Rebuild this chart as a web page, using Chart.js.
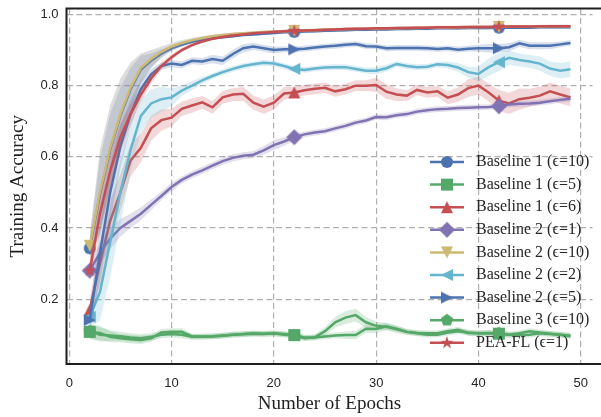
<!DOCTYPE html>
<html>
<head>
<meta charset="utf-8">
<script src="https://cdn.jsdelivr.net/npm/chart.js@4/dist/chart.umd.min.js"></script>
<style>
  html, body { margin: 0; padding: 0; background: #fff; }
  #wrap { width: 601px; height: 417px; }
</style>
</head>
<body>
<div id="wrap"><canvas id="chart" width="601" height="417"></canvas></div>
<script>
// epochs on the x axis
const epochs = [2,3,4,5,6,7,8,9,10,11,12,13,
                14,15,16,17,18,19,20,21,22,23,24,25,
                26,27,28,29,30,31,32,33,34,35,36,37,
                38,39,40,41,42,43,44,45,46,47,48,49];

// training accuracy per series
const b1e10 = [0.343,0.495,0.62,0.715,0.79,0.845,0.87,0.89,0.905,0.915,0.923,0.929,
               0.933,0.936,0.939,0.942,0.944,0.946,0.948,0.95,0.951,0.952,0.953,0.954,
               0.955,0.956,0.957,0.957,0.958,0.958,0.959,0.959,0.96,0.96,0.961,0.961,
               0.961,0.962,0.962,0.962,0.963,0.963,0.963,0.963,0.964,0.964,0.964,0.964];
const b1e5 = [0.108,0.105,0.094,0.09,0.087,0.085,0.09,0.106,0.108,0.108,0.095,0.095,
              0.096,0.098,0.1,0.101,0.103,0.102,0.104,0.102,0.099,0.092,0.092,0.095,
              0.098,0.099,0.099,0.117,0.116,0.124,0.117,0.108,0.104,0.1,0.1,0.106,
              0.11,0.106,0.104,0.104,0.103,0.1,0.099,0.1,0.104,0.102,0.1,0.098];
const b1e6 = [0.17,0.3,0.42,0.5,0.59,0.625,0.68,0.703,0.71,0.735,0.744,0.753,
              0.739,0.767,0.775,0.777,0.752,0.741,0.752,0.778,0.781,0.787,0.791,0.794,
              0.784,0.79,0.8,0.8,0.802,0.783,0.775,0.772,0.788,0.781,0.784,0.766,
              0.775,0.793,0.8,0.781,0.758,0.75,0.762,0.766,0.772,0.784,0.775,0.767];
const b2e1 = [0.28,0.33,0.37,0.4,0.42,0.44,0.465,0.49,0.515,0.535,0.55,0.562,
              0.575,0.588,0.597,0.603,0.606,0.618,0.633,0.643,0.655,0.663,0.668,0.672,
              0.68,0.687,0.696,0.702,0.712,0.711,0.717,0.72,0.727,0.731,0.734,0.735,
              0.737,0.738,0.739,0.74,0.742,0.747,0.749,0.75,0.752,0.756,0.76,0.763];
const b2e10 = [0.35,0.5,0.625,0.72,0.795,0.85,0.875,0.895,0.91,0.92,0.928,0.934,
               0.939,0.942,0.945,0.947,0.949,0.951,0.952,0.953,0.954,0.955,0.956,0.957,
               0.958,0.959,0.959,0.96,0.96,0.961,0.961,0.962,0.962,0.963,0.963,0.963,
               0.964,0.964,0.965,0.965,0.965,0.966,0.966,0.966,0.966,0.967,0.967,0.967];
const b2e2 = [0.15,0.22,0.36,0.5,0.62,0.715,0.75,0.762,0.767,0.786,0.8,0.815,
              0.827,0.838,0.847,0.855,0.86,0.864,0.862,0.855,0.847,0.844,0.848,0.851,
              0.852,0.852,0.847,0.842,0.842,0.849,0.861,0.855,0.852,0.853,0.86,0.858,
              0.851,0.838,0.833,0.852,0.866,0.878,0.872,0.868,0.862,0.848,0.842,0.846];
const b2e5 = [0.141,0.33,0.5,0.63,0.72,0.79,0.832,0.855,0.862,0.858,0.87,0.868,
              0.875,0.87,0.889,0.905,0.91,0.905,0.9,0.902,0.902,0.904,0.907,0.91,
              0.912,0.915,0.917,0.911,0.91,0.905,0.906,0.906,0.906,0.905,0.903,0.905,
              0.901,0.904,0.905,0.905,0.905,0.908,0.919,0.912,0.912,0.912,0.916,0.92];
const b3e10 = [0.11,0.1,0.098,0.096,0.092,0.09,0.094,0.1,0.102,0.1,0.094,0.094,
               0.095,0.097,0.1,0.102,0.104,0.103,0.104,0.1,0.098,0.09,0.093,0.11,
               0.135,0.148,0.155,0.135,0.125,0.122,0.115,0.108,0.105,0.104,0.104,0.11,
               0.114,0.105,0.104,0.105,0.104,0.1,0.104,0.11,0.106,0.103,0.1,0.096];
const peaFl = [0.28,0.44,0.56,0.655,0.72,0.775,0.82,0.855,0.88,0.9,0.914,0.924,
               0.932,0.937,0.941,0.944,0.947,0.949,0.951,0.953,0.954,0.955,0.956,0.957,
               0.958,0.959,0.96,0.96,0.961,0.961,0.962,0.962,0.963,0.963,0.964,0.964,
               0.964,0.965,0.965,0.965,0.966,0.966,0.966,0.966,0.967,0.967,0.967,0.967];

// half-width of the shaded band around each series
const b1e10Band = [0.03,0.1,0.1,0.08,0.06,0.04,0.02,0.012,0.008,0.005,0.004,0.004,
                   0.004,0.004,0.004,0.004,0.004,0.004,0.004,0.004,0.004,0.004,0.004,0.004,
                   0.004,0.004,0.004,0.004,0.004,0.004,0.004,0.004,0.004,0.004,0.004,0.004,
                   0.004,0.004,0.004,0.004,0.004,0.004,0.004,0.004,0.004,0.004,0.004,0.004];
const b1e5Band = [0.02,0.02,0.015,0.012,0.012,0.012,0.01,0.01,0.01,0.01,0.008,0.008,
                  0.008,0.008,0.008,0.008,0.008,0.008,0.008,0.008,0.008,0.008,0.008,0.008,
                  0.008,0.01,0.012,0.012,0.012,0.01,0.008,0.008,0.008,0.008,0.008,0.008,
                  0.008,0.008,0.008,0.008,0.008,0.008,0.008,0.008,0.008,0.008,0.008,0.008];
const b1e6Band = [0.03,0.06,0.06,0.05,0.045,0.04,0.035,0.03,0.025,0.02,0.02,0.018,
                  0.018,0.018,0.018,0.02,0.02,0.02,0.02,0.018,0.015,0.015,0.015,0.015,
                  0.015,0.015,0.015,0.015,0.02,0.02,0.018,0.015,0.015,0.015,0.015,0.018,
                  0.02,0.025,0.025,0.025,0.03,0.03,0.03,0.025,0.025,0.025,0.025,0.025];
const b2e1Band = [0.02,0.03,0.03,0.025,0.02,0.018,0.015,0.012,0.012,0.01,0.01,0.01,
                  0.01,0.01,0.01,0.01,0.01,0.012,0.014,0.012,0.01,0.008,0.008,0.008,
                  0.008,0.008,0.008,0.008,0.008,0.008,0.008,0.008,0.008,0.008,0.008,0.008,
                  0.008,0.008,0.008,0.008,0.008,0.008,0.008,0.008,0.008,0.008,0.008,0.008];
const b2e10Band = [0.03,0.12,0.12,0.1,0.07,0.04,0.025,0.015,0.01,0.008,0.006,0.005,
                   0.004,0.004,0.004,0.004,0.004,0.004,0.004,0.004,0.004,0.004,0.004,0.004,
                   0.004,0.004,0.004,0.004,0.004,0.004,0.004,0.004,0.004,0.004,0.004,0.004,
                   0.004,0.004,0.004,0.004,0.004,0.004,0.004,0.004,0.004,0.004,0.004,0.004];
const b2e2Band = [0.03,0.08,0.1,0.09,0.06,0.045,0.04,0.035,0.025,0.015,0.012,0.01,
                  0.008,0.008,0.008,0.008,0.008,0.008,0.008,0.008,0.008,0.008,0.008,0.008,
                  0.008,0.008,0.008,0.008,0.01,0.01,0.008,0.008,0.008,0.008,0.008,0.01,
                  0.012,0.015,0.02,0.025,0.025,0.02,0.018,0.018,0.02,0.02,0.022,0.022];
const b2e5Band = [0.03,0.08,0.08,0.06,0.04,0.025,0.015,0.01,0.01,0.01,0.01,0.01,
                  0.012,0.012,0.012,0.012,0.01,0.01,0.01,0.008,0.008,0.008,0.008,0.008,
                  0.008,0.008,0.008,0.008,0.008,0.008,0.008,0.008,0.008,0.008,0.008,0.008,
                  0.008,0.008,0.01,0.012,0.012,0.012,0.01,0.01,0.01,0.01,0.008,0.008];
const b3e10Band = [0.02,0.02,0.015,0.012,0.012,0.012,0.01,0.01,0.01,0.01,0.008,0.008,
                   0.008,0.008,0.008,0.008,0.008,0.008,0.008,0.008,0.008,0.008,0.008,0.012,
                   0.015,0.018,0.018,0.015,0.012,0.01,0.01,0.008,0.008,0.008,0.008,0.008,
                   0.008,0.008,0.008,0.008,0.008,0.008,0.008,0.008,0.008,0.008,0.008,0.008];
const peaFlBand = [0.03,0.05,0.05,0.04,0.03,0.02,0.015,0.01,0.008,0.006,0.005,0.004,
                   0.004,0.004,0.004,0.004,0.004,0.004,0.004,0.004,0.004,0.004,0.004,0.004,
                   0.004,0.004,0.004,0.004,0.004,0.004,0.004,0.004,0.004,0.004,0.004,0.004,
                   0.004,0.004,0.004,0.004,0.004,0.004,0.004,0.004,0.004,0.004,0.004,0.004];

const xTicks = [0, 10, 20, 30, 40, 50];
const yTicks = [0.2, 0.4, 0.6, 0.8, 1.0];

// seaborn "deep" colours
const blue = "#4C72B0", green = "#55A868", red = "#C44E52",
      purple = "#8172B2", gold = "#CCB974", cyan = "#64B5CD";

// markers every 20 epochs, starting at the first one
const markIdx = [0, 20, 40];

function rgba(hex, a) {
    const n = parseInt(hex.slice(1), 16);
    return `rgba(${n >> 16},${(n >> 8) & 255},${n & 255},${a})`;
}

function makeMarker(shape, color) {
    const c = document.createElement("canvas");
    c.width = 20;
    c.height = 20;
    const g = c.getContext("2d");
    g.fillStyle = color;
    g.translate(10, 10);
    g.beginPath();
    const h = 6;
    if (shape === "circle") {
        g.arc(0, 0, h, 0, Math.PI * 2);
    } else if (shape === "square") {
        g.rect(-h, -h, 2 * h, 2 * h);
    } else if (shape.startsWith("tri")) {
        const rot = { triUp: 0, triDown: Math.PI, triLeft: -Math.PI / 2, triRight: Math.PI / 2 }[shape];
        g.rotate(rot);
        g.moveTo(0, -h);
        g.lineTo(h, h);
        g.lineTo(-h, h);
    } else if (shape === "diamond") {
        const d = 8;
        g.moveTo(0, -d);
        g.lineTo(d, 0);
        g.lineTo(0, d);
        g.lineTo(-d, 0);
    } else if (shape === "pentagon") {
        for (let k = 0; k < 5; k++) {
            const a = -Math.PI / 2 + k * 2 * Math.PI / 5;
            g.lineTo(Math.cos(a) * 6.5, Math.sin(a) * 6.5);
        }
    } else if (shape === "star") {
        for (let k = 0; k < 10; k++) {
            const a = -Math.PI / 2 + k * Math.PI / 5;
            const r = k % 2 ? 2.6 : 6.8;
            g.lineTo(Math.cos(a) * r, Math.sin(a) * r);
        }
    }
    g.closePath();
    g.fill();
    return c;
}

const seriesList = [
    { name: "Baseline 1 (\u03f5=10)", values: b1e10, band: b1e10Band, color: blue,   marker: "circle" },
    { name: "Baseline 1 (\u03f5=5)",  values: b1e5,  band: b1e5Band,  color: green,  marker: "square" },
    { name: "Baseline 1 (\u03f5=6)",  values: b1e6,  band: b1e6Band,  color: red,    marker: "triUp" },
    { name: "Baseline 2 (\u03f5=1)",  values: b2e1,  band: b2e1Band,  color: purple, marker: "diamond" },
    { name: "Baseline 2 (\u03f5=10)", values: b2e10, band: b2e10Band, color: gold,   marker: "triDown",
      bandColor: "rgba(150,150,145,0.32)" },
    { name: "Baseline 2 (\u03f5=2)",  values: b2e2,  band: b2e2Band,  color: cyan,   marker: "triLeft" },
    { name: "Baseline 2 (\u03f5=5)",  values: b2e5,  band: b2e5Band,  color: blue,   marker: "triRight" },
    { name: "Baseline 3 (\u03f5=10)", values: b3e10, band: b3e10Band, color: green,  marker: "pentagon" },
    { name: "PEA-FL (\u03f5=1)",      values: peaFl, band: peaFlBand, color: red,    marker: "star" }
];

seriesList.forEach(s => { s.img = makeMarker(s.marker, s.color); });

const datasets = [];
seriesList.forEach((s, i) => {
    // band: upper edge, then lower edge filled up to it
    datasets.push({
        data: s.values.map((v, k) => ({ x: epochs[k], y: v + s.band[k] })),
        borderColor: "transparent",
        borderWidth: 0,
        pointRadius: 0,
        fill: false,
        order: 100 - 2 * i
    });
    datasets.push({
        data: s.values.map((v, k) => ({ x: epochs[k], y: v - s.band[k] })),
        borderColor: "transparent",
        borderWidth: 0,
        pointRadius: 0,
        fill: "-1",
        backgroundColor: s.bandColor || rgba(s.color, 0.22),
        order: 100 - 2 * i
    });
    datasets.push({
        data: s.values.map((v, k) => ({ x: epochs[k], y: v })),
        borderColor: s.color,
        borderWidth: 2.5,
        fill: false,
        pointStyle: s.img,
        pointRadius: ctx => markIdx.includes(ctx.dataIndex) ? 6 : 0,
        pointHoverRadius: 0,
        order: 99 - 2 * i
    });
});

// frame on top/left/bottom and the legend with line + marker handles
const framePlugin = {
    id: "frameAndLegend",
    afterDraw(chart) {
        const { ctx, chartArea: a } = chart;
        ctx.save();
        ctx.strokeStyle = "#1e1e1e";
        ctx.lineWidth = 2;
        ctx.beginPath();
        ctx.moveTo(chart.width, a.top);
        ctx.lineTo(a.left, a.top);
        ctx.lineTo(a.left, a.bottom);
        ctx.lineTo(chart.width, a.bottom);
        ctx.stroke();

        ctx.font = '16px "Liberation Serif", "DejaVu Serif", serif';
        ctx.textBaseline = "middle";
        ctx.textAlign = "left";
        seriesList.forEach((s, i) => {
            const y = 162 + i * 22.6;
            ctx.strokeStyle = s.color;
            ctx.lineWidth = 2.5;
            ctx.beginPath();
            ctx.moveTo(430, y);
            ctx.lineTo(464, y);
            ctx.stroke();
            ctx.drawImage(s.img, 447 - 10, y - 10);
            ctx.fillStyle = "#262626";
            ctx.fillText(s.name, 476, y);
        });
        ctx.restore();
    }
};

new Chart(document.getElementById("chart"), {
    type: "line",
    data: { datasets },
    options: {
        responsive: false,
        animation: false,
        events: [],
        layout: { padding: { top: 8, left: 0, right: 0, bottom: 0 } },
        plugins: {
            legend: { display: false },
            tooltip: { enabled: false }
        },
        elements: { line: { tension: 0 } },
        scales: {
            x: {
                type: "linear",
                min: -0.27,
                max: 51.15,
                afterFit: scale => {
                    scale.height = 53;
                    scale.paddingLeft = 0;
                    scale.paddingRight = 0;
                },
                afterBuildTicks: scale => { scale.ticks = xTicks.map(v => ({ value: v })); },
                ticks: {
                    padding: 12,
                    color: "#262626",
                    font: { family: '"Liberation Sans", Arial, sans-serif', size: 13 },
                    callback: v => String(v)
                },
                grid: { color: "#b0b0b0", lineWidth: 1.2, drawTicks: false },
                border: { display: false, dash: [6, 3.5] },
                title: {
                    display: true,
                    text: "Number of Epochs",
                    color: "#1e1e1e",
                    font: { family: '"Liberation Serif", serif', size: 19 },
                    padding: { top: 0, bottom: 2 }
                }
            },
            y: {
                min: 0.0177,
                max: 1.0168,
                afterFit: scale => {
                    scale.width = 66.5;
                    scale.paddingTop = 0;
                    scale.paddingBottom = 0;
                },
                afterBuildTicks: scale => { scale.ticks = yTicks.map(v => ({ value: v })); },
                ticks: {
                    padding: 8,
                    color: "#262626",
                    font: { family: '"Liberation Sans", Arial, sans-serif', size: 13 },
                    callback: v => v.toFixed(1)
                },
                grid: { color: "#b0b0b0", lineWidth: 1.2, drawTicks: false },
                border: { display: false, dash: [6, 3.5] },
                title: {
                    display: true,
                    text: "Training Accuracy",
                    color: "#1e1e1e",
                    font: { family: '"Liberation Serif", serif', size: 19 },
                    padding: { top: 7, bottom: 0 }
                }
            }
        }
    },
    plugins: [framePlugin]
});
</script>
</body>
</html>
